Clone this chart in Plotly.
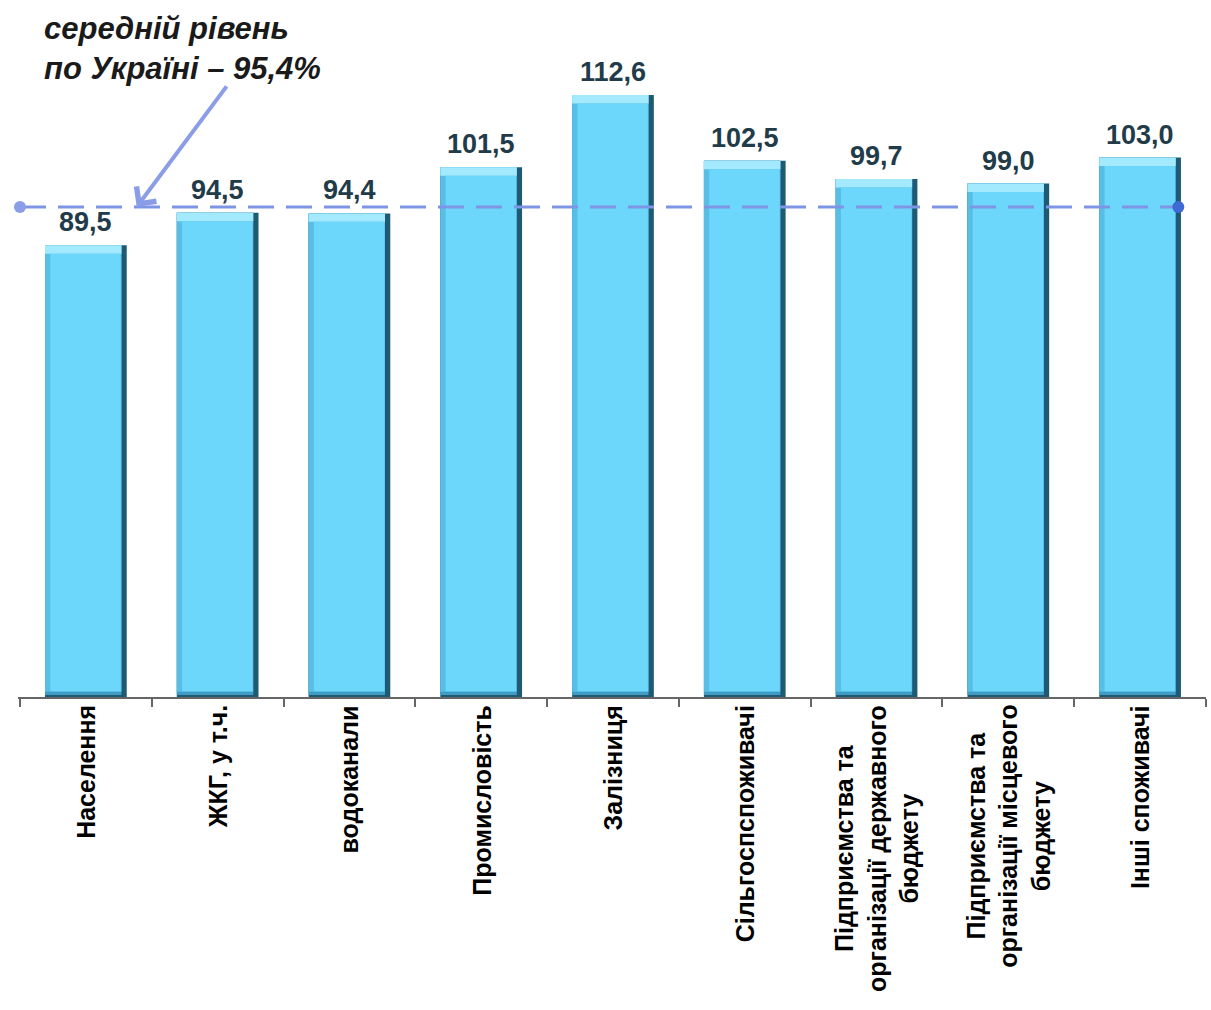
import plotly.graph_objects as go

categories = [
    "Населення",
    "ЖКГ, у т.ч.",
    "водоканали",
    "Промисловість",
    "Залізниця",
    "Сільгоспспоживачі",
    "Підприємства та<br>організації державного<br>бюджету",
    "Підприємства та<br>організації місцевого<br>бюджету",
    "Інші споживачі",
]
values = [89.5, 94.5, 94.4, 101.5, 112.6, 102.5, 99.7, 99.0, 103.0]
average = 95.4
avg_label = "середній рівень<br>по Україні – 95,4%"

Y_MIN, Y_MAX = 20, 118
xs = list(range(len(categories)))
boundaries = [i - 0.5 for i in range(len(categories) + 1)]

fig = go.Figure()

# outer (dark right edge)
fig.add_bar(x=xs, y=[v - Y_MIN for v in values], base=Y_MIN, width=0.62, offset=-0.31,
            marker=dict(color="#1f5a74", line=dict(width=0)), hoverinfo="skip")
# bottom / left bevel
fig.add_bar(x=xs, y=[v - Y_MIN - 0.3 for v in values], base=Y_MIN + 0.3, width=0.58, offset=-0.31,
            marker=dict(color="#3f9cc4", line=dict(width=0)), hoverinfo="skip")
fig.add_bar(x=xs, y=[v - Y_MIN - 0.8 for v in values], base=Y_MIN + 0.8, width=0.58, offset=-0.31,
            marker=dict(color="#58bee6", line=dict(width=0)), hoverinfo="skip")
# top bevel
fig.add_bar(x=xs, y=[1.3 for v in values], base=[v - 1.3 for v in values], width=0.58, offset=-0.31,
            marker=dict(color="#a3eaff", line=dict(width=0)), hoverinfo="skip")
# main face
fig.add_bar(x=xs, y=[v - Y_MIN - 1.3 - 0.9 for v in values], base=Y_MIN + 0.9, width=0.535, offset=-0.27,
            marker=dict(color="#6dd6fb", line=dict(width=0)), hoverinfo="skip")

# average line (line and end markers as separate traces)
avg_x = [-0.5, 8.29]
fig.add_scatter(x=avg_x, y=[average, average], mode="lines",
                line=dict(color="#7e95e6", width=3, dash="26px,12px"),
                hoverinfo="skip")
fig.add_scatter(x=avg_x, y=[average, average], mode="markers",
                marker=dict(size=12, color=["#8a9ee8", "#3f69d4"], line=dict(width=0)),
                hoverinfo="skip", cliponaxis=False)

for i, v in enumerate(values):
    fig.add_annotation(x=i, y=v, text="<b>" + f"{v:.1f}".replace(".", ",") + "</b>",
                       showarrow=False, yanchor="bottom", yshift=6,
                       font=dict(size=27, color="#213b49", family="Arial"))

for i, c in enumerate(categories):
    fig.add_annotation(x=i, y=Y_MIN, text="<b>" + c + "</b>", showarrow=False,
                       textangle=-90, yanchor="top", xanchor="center", yshift=-6,
                       align="center", font=dict(size=25, color="black", family="Arial"))

fig.add_annotation(xref="paper", yref="paper", x=0.02, y=1.08, xanchor="left", yanchor="top",
                   text="<b><i>" + avg_label + "</i></b>", showarrow=False, align="left",
                   font=dict(size=31, color="#1a1a1a", family="Arial"))

fig.add_annotation(x=0.386, y=average, ax=91, ay=-122, text="", showarrow=True,
                   arrowhead=4, arrowsize=1.2, arrowwidth=4, arrowcolor="#8c9de8")

fig.update_layout(
    width=1211, height=1010,
    margin=dict(l=18, r=5, t=60, b=313),
    barmode="overlay",
    showlegend=False,
    plot_bgcolor="white", paper_bgcolor="white",
    font=dict(family="Arial", color="black"),
)
fig.update_xaxes(
    tickmode="array", tickvals=boundaries, ticktext=[""] * len(boundaries),
    range=[-0.515, 8.5], showline=True, linecolor="#666", linewidth=2,
    ticks="outside", ticklen=8, tickwidth=2, tickcolor="#666",
    showgrid=False, zeroline=False,
)
fig.update_yaxes(range=[Y_MIN, Y_MAX], visible=False, showgrid=False, zeroline=False, showline=False)

fig.write_html("out.html")
